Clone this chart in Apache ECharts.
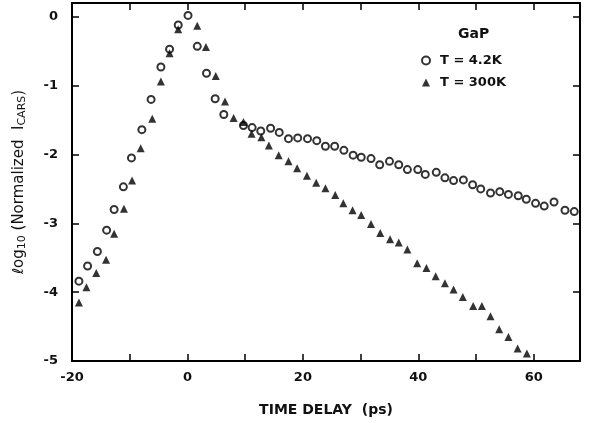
<!DOCTYPE html>
<html>
<head>
<meta charset="utf-8">
<script src="https://cdn.jsdelivr.net/npm/echarts@6/dist/echarts.min.js"></script>
<style>
  html, body { margin: 0; padding: 0; background: #fff; }
  #main { width: 591px; height: 423px; }
</style>
</head>
<body>
<div id="main"></div>
<script>
// T = 4.2K (open circles)
var cold = [
    [-18.8, -3.84], [-17.3, -3.62], [-15.6, -3.41], [-14.0, -3.10], [-12.7, -2.80],
    [-11.1, -2.47], [-9.7, -2.05], [-7.9, -1.64], [-6.3, -1.20], [-4.6, -0.73],
    [-3.1, -0.47], [-1.6, -0.12], [0.1, 0.02], [1.7, -0.43], [3.3, -0.82],
    [4.8, -1.19], [6.3, -1.42], [9.7, -1.58], [11.2, -1.61], [12.7, -1.66],
    [14.4, -1.62], [15.9, -1.68], [17.5, -1.77], [19.1, -1.76], [20.8, -1.77],
    [22.4, -1.80], [23.9, -1.88], [25.5, -1.88], [27.1, -1.94], [28.7, -2.01],
    [30.1, -2.04], [31.8, -2.06], [33.3, -2.15], [35.0, -2.10], [36.6, -2.15],
    [38.1, -2.22], [39.9, -2.22], [41.2, -2.29], [43.1, -2.26], [44.6, -2.34],
    [46.1, -2.38], [47.8, -2.37], [49.4, -2.44], [50.8, -2.50], [52.5, -2.56],
    [54.1, -2.54], [55.6, -2.58], [57.3, -2.60], [58.7, -2.65], [60.3, -2.71],
    [61.8, -2.75], [63.5, -2.69], [65.4, -2.81], [67.0, -2.83]
];
// T = 300K (filled triangles)
var warm = [
    [-18.8, -4.15], [-17.5, -3.93], [-15.8, -3.72], [-14.1, -3.53], [-12.7, -3.15],
    [-11.0, -2.79], [-9.6, -2.38], [-8.1, -1.91], [-6.1, -1.48], [-4.6, -0.94],
    [-3.1, -0.53], [-1.6, -0.18], [1.7, -0.13], [3.2, -0.44], [4.9, -0.86],
    [6.5, -1.23], [8.0, -1.47], [9.7, -1.53], [11.1, -1.70], [12.8, -1.75],
    [14.1, -1.87], [15.8, -2.01], [17.5, -2.10], [19.0, -2.20], [20.7, -2.31],
    [22.3, -2.41], [23.9, -2.49], [25.6, -2.59], [27.0, -2.71], [28.6, -2.81],
    [30.1, -2.88], [31.8, -3.01], [33.4, -3.14], [35.1, -3.23], [36.6, -3.28],
    [38.1, -3.38], [39.8, -3.58], [41.4, -3.65], [43.0, -3.77], [44.6, -3.87],
    [46.1, -3.96], [47.7, -4.07], [49.5, -4.20], [51.0, -4.20], [52.5, -4.35],
    [54.0, -4.54], [55.6, -4.65], [57.2, -4.82], [58.8, -4.89]
];
var seriesNames = ['T = 4.2K', 'T = 300K'];
var xRange = [-20, 68];
var yRange = [-5, 0.2];

var myChart = echarts.init(document.getElementById('main'));

var axisLine = { show: true, onZero: false, lineStyle: { color: '#000', width: 2 } };
var tick = { show: true, inside: true, length: 7, lineStyle: { color: '#000', width: 1.5 } };
var labelFont = { color: '#111', fontFamily: 'DejaVu Sans', fontSize: 13, fontWeight: 'bold' };

var option = {
    animation: false,
    backgroundColor: '#fff',
    title: {
        text: 'GaP',
        left: 453, top: 22,
        textStyle: { fontFamily: 'DejaVu Sans', fontSize: 14, fontWeight: 'bold', color: '#111' }
    },
    legend: {
        data: seriesNames,
        orient: 'vertical',
        left: 416, top: 49,
        itemWidth: 8, itemHeight: 8, itemGap: 9,
        textStyle: { fontFamily: 'DejaVu Sans', fontSize: 13, fontWeight: 'bold', color: '#111', padding: [0, 0, 0, 5] }
    },
    grid: { left: 72, right: 11, top: 3, bottom: 62 },
    xAxis: [{
        type: 'value', min: xRange[0], max: xRange[1], interval: 10,
        name: 'TIME DELAY  (ps)', nameLocation: 'middle', nameGap: 42,
        nameTextStyle: { fontFamily: 'DejaVu Sans', fontSize: 14, fontWeight: 'bold', color: '#111' },
        axisLine: axisLine, axisTick: tick, splitLine: { show: false },
        axisLabel: Object.assign({
            margin: 10,
            formatter: function (v) { return v % 20 === 0 ? String(v) : ''; }
        }, labelFont)
    }, {
        type: 'value', position: 'top', min: xRange[0], max: xRange[1], interval: 10,
        axisLine: axisLine, axisTick: tick, splitLine: { show: false },
        axisLabel: { show: false }
    }],
    yAxis: [{
        type: 'value', min: yRange[0], max: yRange[1], interval: 1,
        name: 'ℓog{s|10} (Normalized  I{s|CARS})', nameLocation: 'middle', nameGap: 44, nameRotate: 90,
        nameTextStyle: {
            fontFamily: 'DejaVu Sans', fontSize: 15, color: '#111',
            rich: { s: { fontFamily: 'DejaVu Sans', fontSize: 11, color: '#111', padding: [6, 0, 0, 0] } }
        },
        axisLine: axisLine, axisTick: tick, splitLine: { show: false },
        axisLabel: Object.assign({
            margin: 14,
            formatter: function (v) { return Math.abs(v - Math.round(v)) < 1e-6 ? String(Math.round(v)) : ''; }
        }, labelFont)
    }, {
        type: 'value', position: 'right', min: yRange[0], max: yRange[1], interval: 1,
        axisLine: axisLine, axisTick: tick, splitLine: { show: false },
        axisLabel: { show: false }
    }],
    series: [{
        name: seriesNames[0],
        type: 'scatter',
        symbol: 'emptyCircle',
        symbolSize: 7,
        itemStyle: { color: '#000', borderColor: '#000', borderWidth: 1.3 },
        data: cold
    }, {
        name: seriesNames[1],
        type: 'scatter',
        symbol: 'triangle',
        symbolSize: 8,
        itemStyle: { color: '#000' },
        data: warm
    }]
};

myChart.setOption(option);
</script>
</body>
</html>
